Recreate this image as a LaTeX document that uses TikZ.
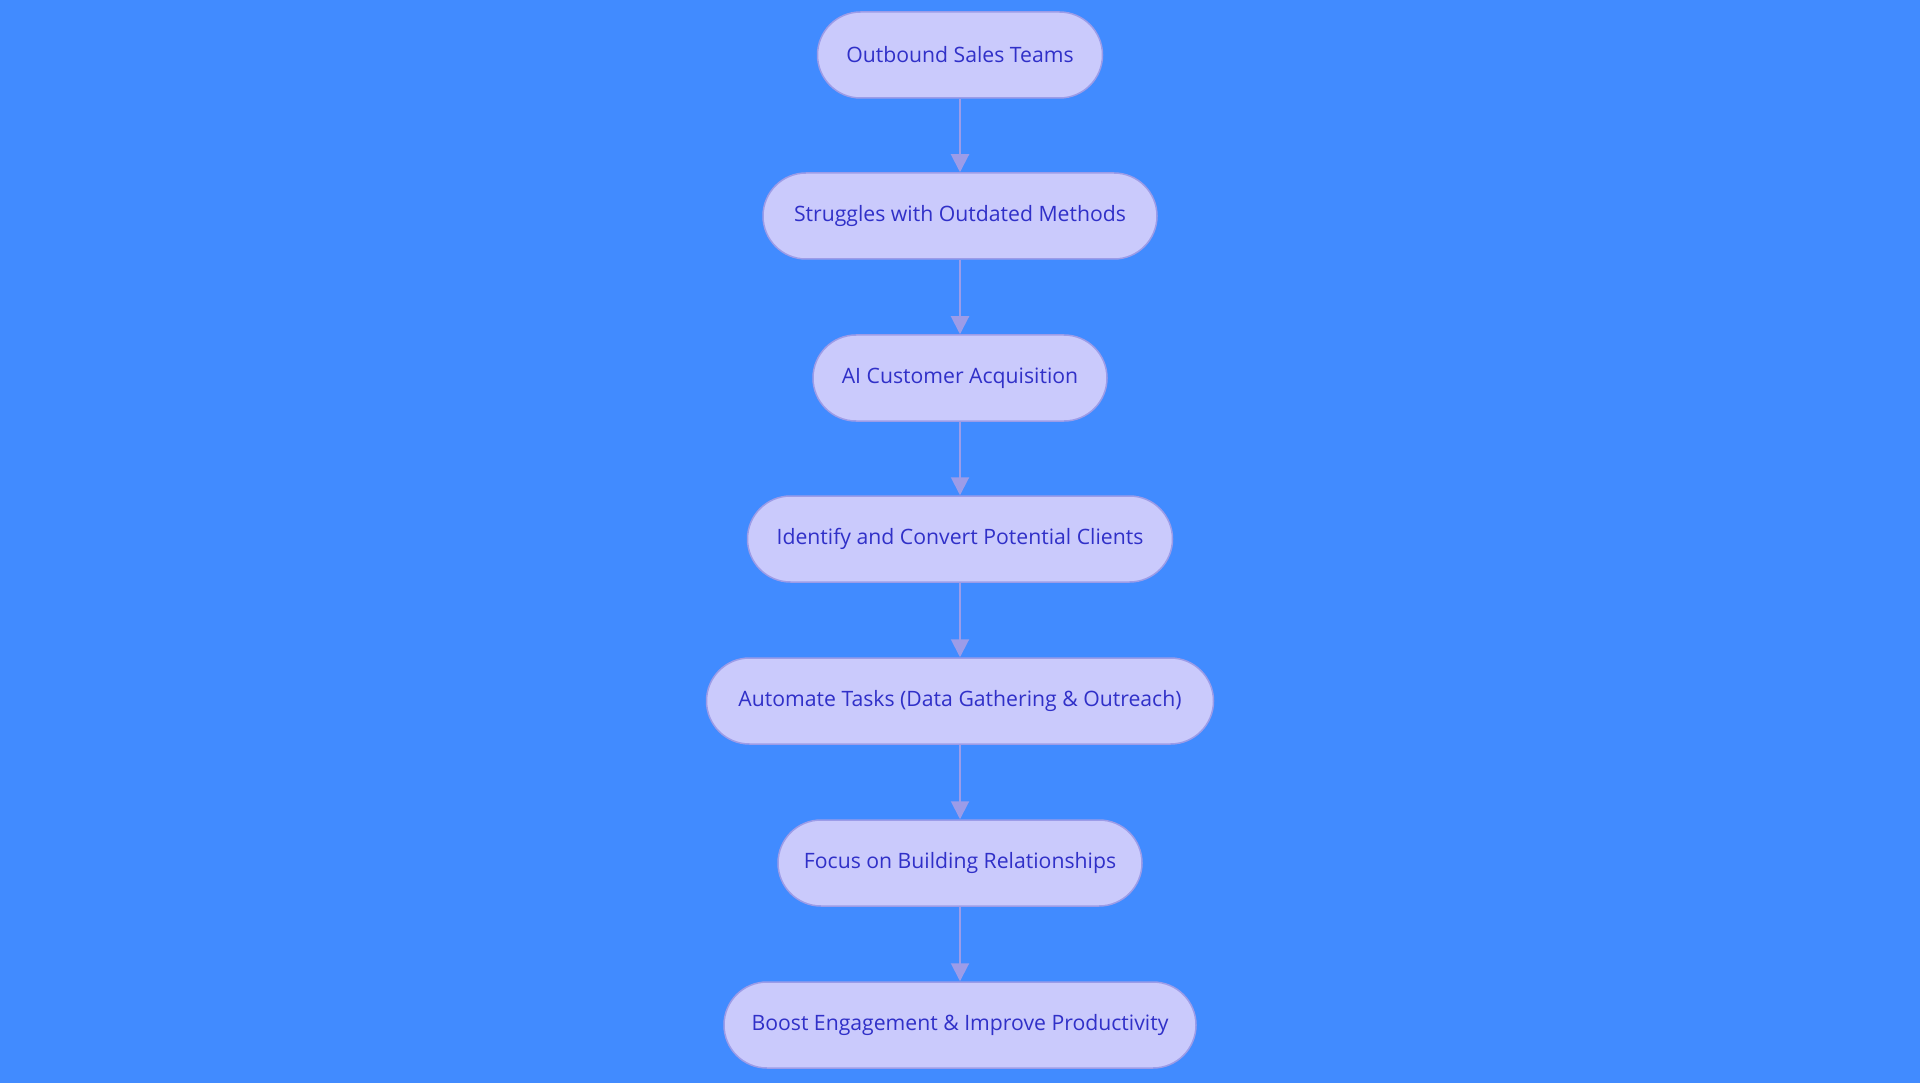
\documentclass[tikz,border=0pt]{standalone}
\usepackage{fontspec}
\setmainfont{Open Sans}
\usetikzlibrary{arrows.meta}
\definecolor{bg}{HTML}{418BFF}
\definecolor{nodefill}{HTML}{CACAFC}
\definecolor{nodeline}{HTML}{9C9CE8}
\definecolor{txt}{HTML}{3030C8}
\definecolor{edge}{HTML}{9C9CE8}
\tikzset{
  stepbox/.style={draw=nodeline, line width=1.5pt, fill=nodefill, rounded corners=43pt,
    minimum height=86pt, inner sep=0pt, text=txt, font=\fontsize{21.2}{25}\selectfont, anchor=center},
  flow/.style={draw=edge, line width=2pt, -{Triangle[width=18pt,length=18pt]}}
}
\begin{document}
\begin{tikzpicture}[x=1pt,y=-1pt]
\fill[bg] (0,0) rectangle (1920,1083);
\useasboundingbox (0,0) rectangle (1920,1083);
\node[stepbox, minimum width=285pt] (n1) at (960,55) {\raisebox{1pt}{Outbound Sales Teams}};
\node[stepbox, minimum width=394pt] (n2) at (960,216) {\raisebox{1pt}{Struggles with Outdated Methods}};
\node[stepbox, minimum width=294pt] (n3) at (960,378) {\raisebox{1pt}{AI Customer Acquisition}};
\node[stepbox, minimum width=425pt] (n4) at (960,539) {\raisebox{1pt}{Identify and Convert Potential Clients}};
\node[stepbox, minimum width=507pt] (n5) at (960,701) {\raisebox{1pt}{Automate Tasks (Data Gathering \& Outreach)}};
\node[stepbox, minimum width=364pt] (n6) at (960,863) {\raisebox{1pt}{Focus on Building Relationships}};
\node[stepbox, minimum width=472pt] (n7) at (960,1025) {\raisebox{1pt}{Boost Engagement \& Improve Productivity}};
\draw[flow] (n1) -- (n2);
\draw[flow] (n2) -- (n3);
\draw[flow] (n3) -- (n4);
\draw[flow] (n4) -- (n5);
\draw[flow] (n5) -- (n6);
\draw[flow] (n6) -- (n7);
\end{tikzpicture}
\end{document}
